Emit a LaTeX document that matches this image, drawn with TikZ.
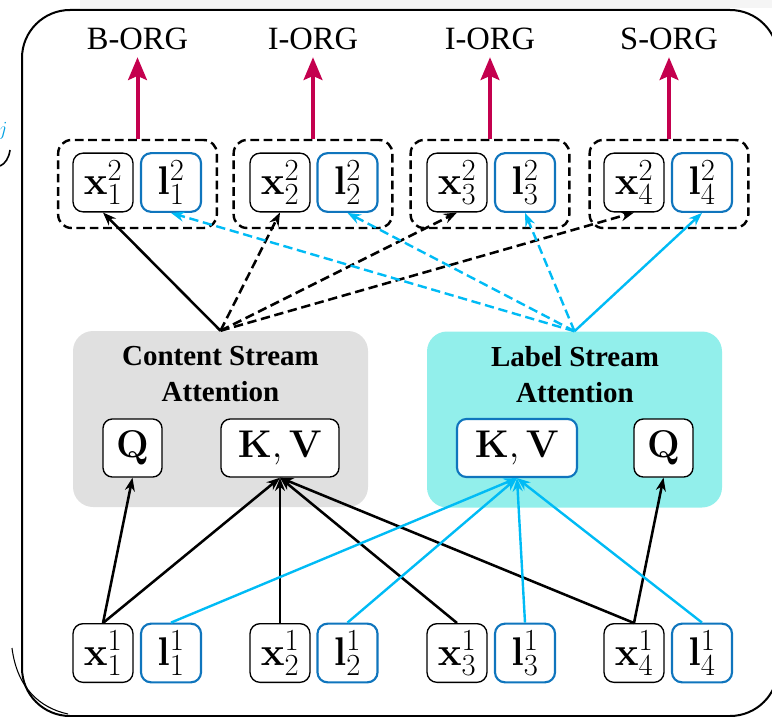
\RequirePackage{fix-cm}
\documentclass[tikz,border=0pt]{standalone}
\usepackage[no-math]{fontspec}
\newfontfamily\labelfont{Liberation Serif}
\usetikzlibrary{arrows.meta}
\DeclareMathSizes{30}{30}{23}{17}
\definecolor{tagred}{RGB}{196,0,78}
\definecolor{lblue}{RGB}{15,117,189}
\definecolor{lcyan}{RGB}{0,187,245}
\definecolor{cgray}{RGB}{224,224,224}
\definecolor{lfill}{RGB}{146,239,235}
\definecolor{jblue}{RGB}{0,160,225}

\begin{document}
\begin{tikzpicture}[x=0.75pt,y=-0.75pt,
  tok/.style={draw=black,line width=1pt,rounded corners=7.5pt,fill=white,
    minimum width=45pt,minimum height=44pt,inner sep=0pt,
    font=\fontsize{30}{32}\selectfont},
  ltok/.style={tok,draw=lblue,line width=1.6pt},
  grp/.style={draw=black,line width=1.8pt,dash pattern=on 6.5pt off 3.5pt,
    rounded corners=10pt,minimum width=119pt,minimum height=66pt,inner sep=0pt},
  opbox/.style={draw=black,line width=1pt,rounded corners=7pt,fill=white,
    minimum width=44.25pt,minimum height=43.5pt,inner sep=0pt,
    font=\fontsize{29}{31}\selectfont},
  attn/.style={rounded corners=15pt,minimum width=221.25pt,minimum height=132pt,inner sep=0pt},
  title/.style={font=\labelfont\bfseries\fontsize{21.75}{27}\selectfont,align=center,inner sep=0pt},
  tag/.style={font=\labelfont\fontsize{24.4}{26}\selectfont,inner sep=0pt,anchor=base},
  tagarrow/.style={draw=tagred,line width=3pt,-{Stealth[length=17pt,width=14pt,inset=3pt]},shorten >=5pt},
  kline/.style={draw=black,line width=1.9pt,-{Stealth[length=10pt,width=7.5pt]}},
  cline/.style={draw=lcyan,line width=1.8pt,-{Stealth[length=10pt,width=7.5pt]}},
  dline/.style={dash pattern=on 7pt off 3.5pt}
]
\useasboundingbox (0,0) rectangle (772,717);

% faint strip and fragments along the edges
\fill[black!4] (80,0) rectangle (772,8);
\node[text=jblue,inner sep=0pt,font=\fontsize{15}{16}\selectfont] (jfrag) at (3,131) {$j$};
\draw[line width=1.2pt] (0,166) .. controls (5,164) and (9,158) .. (10,150);
\draw[line width=0.8pt] (12,648) .. controls (17,688) and (40,708) .. (68,714);

% outer frame
\draw[line width=1.5pt,rounded corners=36pt] (22,10) rectangle (778,716);

% attention blocks
\node[attn,fill=cgray] (cs) at (220.5,419) {};
\node[attn,fill=lfill] (ls) at (574.5,419.5) {};
\node[title,anchor=north] (cst) at (220.5,346) {Content Stream\\Attention};
\node[title,anchor=north] (lst) at (575,346) {Label Stream\\Attention};

\node[opbox] (cq) at (132.5,448) {$\mathbf{Q}$};
\node[opbox,minimum width=88.5pt] (ckv) at (280,448) {$\mathbf{K}, \mathbf{V}$};
\node[opbox,draw=lblue,line width=1.6pt,minimum width=90pt] (lkv) at (517,448) {$\mathbf{K}, \mathbf{V}$};
\node[opbox] (lq) at (663.5,448) {$\mathbf{Q}$};

% output groups
\node[grp] (g1) at (137.5,184) {};
\node[grp] (g2) at (313,184) {};
\node[grp] (g3) at (490,184) {};
\node[grp] (g4) at (669,184) {};

% upper tokens
\node[tok]  (x12) at (103,182.5)  {$\mathbf{x}^2_1$};
\node[ltok] (l12) at (171,182.5)  {$\mathbf{l}^2_1$};
\node[tok]  (x22) at (280,182.5)  {$\mathbf{x}^2_2$};
\node[ltok] (l22) at (347.5,182.5){$\mathbf{l}^2_2$};
\node[tok]  (x32) at (457,182.5)  {$\mathbf{x}^2_3$};
\node[ltok] (l32) at (525,182.5)  {$\mathbf{l}^2_3$};
\node[tok]  (x42) at (634,182.5)  {$\mathbf{x}^2_4$};
\node[ltok] (l42) at (702,182.5)  {$\mathbf{l}^2_4$};

% lower tokens
\node[tok]  (x11) at (103,653)  {$\mathbf{x}^1_1$};
\node[ltok] (l11) at (171,653)  {$\mathbf{l}^1_1$};
\node[tok]  (x21) at (280,653)  {$\mathbf{x}^1_2$};
\node[ltok] (l21) at (347.5,653){$\mathbf{l}^1_2$};
\node[tok]  (x31) at (457,653)  {$\mathbf{x}^1_3$};
\node[ltok] (l31) at (525,653)  {$\mathbf{l}^1_3$};
\node[tok]  (x41) at (634,653)  {$\mathbf{x}^1_4$};
\node[ltok] (l41) at (702,653)  {$\mathbf{l}^1_4$};

% tags
\node[tag] (t1) at (137.5,50) {B-ORG};
\node[tag] (t2) at (313,50) {I-ORG};
\node[tag] (t3) at (490,50) {I-ORG};
\node[tag] (t4) at (669,50) {S-ORG};
\draw[tagarrow] (g1.north) -- (t1.south);
\draw[tagarrow] (g2.north) -- (t2.south);
\draw[tagarrow] (g3.north) -- (t3.south);
\draw[tagarrow] (g4.north) -- (t4.south);

% inputs to attention
\draw[kline] (x11.north) -- (cq.south);
\draw[kline] (x11.north) -- (ckv.south);
\draw[kline] (x21.north) -- (ckv.south);
\draw[kline] (x31.north) -- (ckv.south);
\draw[kline] (x41.north) -- (ckv.south);
\draw[kline] (x41.north) -- (lq.south);
\draw[cline] (l11.north) -- (lkv.south);
\draw[cline] (l21.north) -- (lkv.south);
\draw[cline] (l31.north) -- (lkv.south);
\draw[cline] (l41.north) -- (lkv.south);

% attention to outputs
\draw[kline] (cs.north) -- (x12.south);
\draw[kline,dline] (cs.north) -- (x22.south);
\draw[kline,dline] (cs.north) -- (x32.south);
\draw[kline,dline] (cs.north) -- (x42.south);
\draw[cline,dline] (ls.north) -- (l12.south);
\draw[cline,dline] (ls.north) -- (l22.south);
\draw[cline,dline] (ls.north) -- (l32.south);
\draw[cline] (ls.north) -- (l42.south);
\end{tikzpicture}
\end{document}
